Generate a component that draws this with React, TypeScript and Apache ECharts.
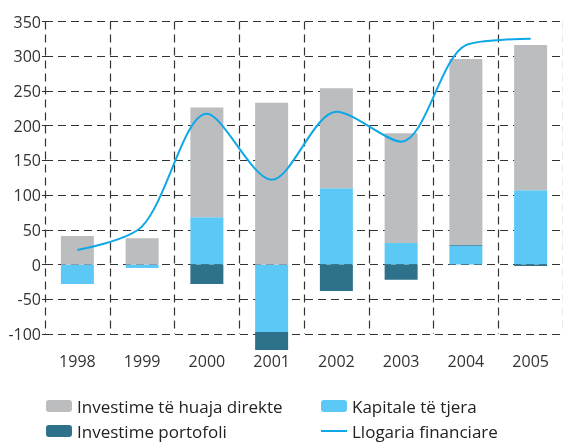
import React, { useEffect, useRef } from "react";
import * as echarts from "echarts";

const years = ["1998", "1999", "2000", "2001", "2002", "2003", "2004", "2005"];
const kapitale = [-28, -5, 68, -97, 110, 31, 27, 107];
const portofoli = [0, 0, -28, -26, -38, -22, 1, -2];
const fdi = [41, 38, 158, 233, 144, 158, 268, 209];
const llogaria = [21, 55, 217, 122, 220, 177, 316, 325];

const FONT = "Open Sans";

export default function App() {
  const ref = useRef<HTMLDivElement>(null);
  useEffect(() => {
    const chart = echarts.init(ref.current!, null, { renderer: "svg" });
    const legendText = { fontFamily: FONT, fontSize: 17, color: "#222" };
    const legendBase = {
      itemWidth: 26,
      itemHeight: 12,
      textStyle: legendText,
      selectedMode: false,
      padding: 0,
    };
    chart.setOption({
      animation: false,
      grid: { left: 45, top: 21.5, height: 312.5, width: 524 },
      legend: [
        { ...legendBase, data: ["Investime të huaja direkte"], left: 46, top: 397.5 },
        { ...legendBase, data: ["Kapitale të tjera"], left: 321, top: 397.5 },
        { ...legendBase, data: ["Investime portofoli"], left: 46, top: 422.5 },
        {
          ...legendBase,
          itemHeight: 2,
          data: [{ name: "Llogaria financiare", icon: "rect" }],
          left: 321,
          top: 422.5,
        },
      ],
      xAxis: {
        type: "category",
        data: years,
        axisLine: { show: false, onZero: false },
        axisTick: { show: false },
        axisLabel: { fontFamily: FONT, fontSize: 16, color: "#333", margin: 19 },
        splitLine: {
          show: true,
          lineStyle: { type: [8, 5], color: "#333", width: 1.2 },
        },
      },
      yAxis: {
        type: "value",
        min: -100,
        max: 350,
        interval: 50,
        axisLine: { show: false },
        axisTick: { show: true, length: 3, lineStyle: { color: "#333" } },
        axisLabel: { fontFamily: FONT, fontSize: 16, color: "#333", margin: 4 },
        splitLine: {
          show: true,
          lineStyle: { type: [8, 5], color: "#333", width: 1.2 },
        },
      },
      series: [
        {
          name: "Kapitale të tjera",
          type: "bar",
          stack: "a",
          data: kapitale,
          barWidth: 33,
          clip: false,
          itemStyle: { color: "#5BC8F5" },
        },
        {
          name: "Investime portofoli",
          type: "bar",
          stack: "a",
          data: portofoli,
          barWidth: 33,
          clip: false,
          itemStyle: { color: "#2E718B" },
        },
        {
          name: "Investime të huaja direkte",
          type: "bar",
          stack: "a",
          data: fdi,
          barWidth: 33,
          clip: false,
          itemStyle: { color: "#BCBDBF" },
        },
        {
          name: "Llogaria financiare",
          type: "line",
          data: llogaria,
          smooth: 0.3,
          symbol: "none",
          showSymbol: false,
          lineStyle: { color: "#0FA8E6", width: 2 },
          itemStyle: { color: "#0FA8E6" },
        },
      ],
    });
    return () => chart.dispose();
  }, []);
  return (
    <div
      ref={ref}
      style={{ position: "fixed", left: 0, top: 0, width: 563, height: 443 }}
    />
  );
}
